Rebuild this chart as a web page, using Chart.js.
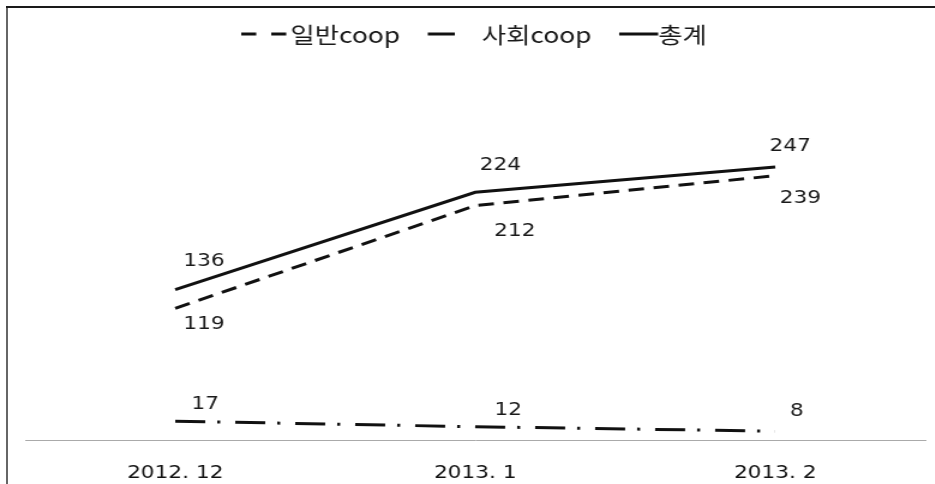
<!DOCTYPE html>
<html>
<head>
<meta charset="utf-8">
<script src="https://cdn.jsdelivr.net/npm/chart.js@4"></script>
<style>
  html, body { margin: 0; padding: 0; background: #fff; }
  #page { position: relative; width: 935px; height: 484px; overflow: hidden; }
  /* the chart is drawn a little narrow and widened horizontally */
  #wrap { position: absolute; left: 0; top: 0; width: 779px; height: 484px;
          transform: scaleX(1.2); transform-origin: 0 0; }
  #coopChart { width: 779px; height: 484px; }
  #frameLeft { position: absolute; left: 6px; top: 6px; bottom: 0; width: 2px; background: #666; }
  #frameTop { position: absolute; left: 6px; top: 6px; right: 0; height: 2px; background: #1a1a1a; }
</style>
</head>
<body>
<div id="page">
  <div id="wrap"><canvas id="coopChart" width="779" height="484"></canvas></div>
  <div id="frameLeft"></div>
  <div id="frameTop"></div>
</div>
<script>
var categories = ['2012. 12', '2013. 1', '2013. 2'];
var seriesNames = ['일반coop', '사회coop', '총계'];
var generalCoop = [119, 212, 239];
var socialCoop = [17, 12, 8];
var totalCoop = [136, 224, 247];

var ink = '#111';

// value label offsets from each point, per dataset
var labelOffsets = [
    [[24, 16], [33, 26], [21, 23]],
    [[25, -17], [27.5, -16], [18, -20]],
    [[24, -28], [21, -27], [12.5, -21]]
];

// legend symbols: width, gap before text, dash pattern
var legendStyle = [
    { w: 37.5, gap: 3.5, dash: [12.5, 12.5] },
    { w: 22.5, gap: 22.5, dash: [] },
    { w: 32.5, gap: 0, dash: [] }
];

var valueLabels = {
    id: 'valueLabels',
    afterDatasetsDraw: function (chart) {
        var ctx = chart.ctx;
        ctx.save();
        ctx.font = '18px "DejaVu Sans"';
        ctx.fillStyle = '#1a1a1a';
        ctx.textAlign = 'center';
        ctx.textBaseline = 'middle';
        chart.data.datasets.forEach(function (ds, i) {
            var meta = chart.getDatasetMeta(i);
            meta.data.forEach(function (pt, j) {
                var off = labelOffsets[i][j];
                ctx.fillText(String(ds.data[j]), pt.x + off[0], pt.y + off[1]);
            });
        });
        ctx.restore();
    }
};

var lineLegend = {
    id: 'lineLegend',
    afterDraw: function (chart) {
        var ctx = chart.ctx;
        var x = 201, y = 34;
        ctx.save();
        ctx.font = '22px "Noto Sans CJK KR"';
        ctx.fillStyle = '#1a1a1a';
        ctx.textBaseline = 'alphabetic';
        seriesNames.forEach(function (name, i) {
            var st = legendStyle[i];
            ctx.beginPath();
            ctx.setLineDash(st.dash);
            ctx.lineWidth = 3;
            ctx.strokeStyle = ink;
            ctx.moveTo(x, y);
            ctx.lineTo(x + st.w, y);
            ctx.stroke();
            x += st.w + st.gap;
            ctx.fillText(name, x, 43);
            x += ctx.measureText(name).width + 23;
        });
        ctx.restore();
    }
};

new Chart(document.getElementById('coopChart'), {
    type: 'line',
    data: {
        labels: categories,
        datasets: [{
            label: seriesNames[0],
            data: generalCoop,
            borderColor: ink,
            borderWidth: 3,
            borderDash: [13, 8]
        }, {
            label: seriesNames[1],
            data: socialCoop,
            borderColor: ink,
            borderWidth: 3,
            borderDash: [25, 10, 2.5, 12.5]
        }, {
            label: seriesNames[2],
            data: totalCoop,
            borderColor: ink,
            borderWidth: 3
        }]
    },
    options: {
        responsive: false,
        animation: false,
        elements: {
            point: { radius: 0, hoverRadius: 0 },
            line: { tension: 0, fill: false }
        },
        // tick padding is counted on both sides of the labels, so the
        // bottom padding pulls the plot back down
        layout: { padding: { left: 21, right: 8, top: 53, bottom: -22 } },
        plugins: {
            legend: { display: false },
            tooltip: { enabled: false }
        },
        scales: {
            x: {
                offset: true,
                grid: { display: false, drawTicks: false },
                border: { display: true, color: '#aaa', width: 1 },
                ticks: {
                    padding: 22.2,
                    color: '#111',
                    font: { family: 'DejaVu Sans', size: 18 }
                }
            },
            y: {
                display: false,
                min: 0,
                max: 350
            }
        }
    },
    plugins: [valueLabels, lineLegend]
});
</script>
</body>
</html>
